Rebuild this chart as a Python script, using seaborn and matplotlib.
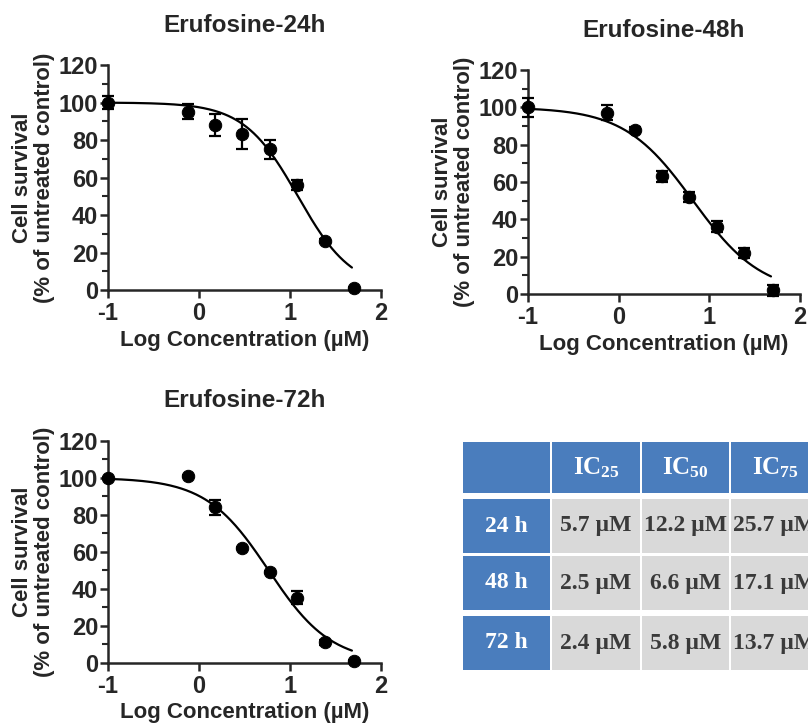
import numpy as np
import pandas as pd
import matplotlib
matplotlib.use('Agg')
import matplotlib.pyplot as plt
import seaborn as sns
from matplotlib.patches import Rectangle
from matplotlib.ticker import MultipleLocator

# Log concentrations (0.1, 0.75, 1.5, 3, 6, 12, 24, 50 uM)
log_conc = [-1.0, -0.125, 0.176, 0.477, 0.778, 1.079, 1.380, 1.699]

surv_24h = [100, 95, 88, 83, 75, 56, 26, 1]
err_24h = [3.5, 4, 6, 8, 5, 2.5, 1, 0.5]
surv_48h = [100, 97, 88, 63, 52, 36, 22, 2]
err_48h = [5, 4, 1.5, 3, 2.5, 3, 2.5, 3]
surv_72h = [100, 101, 84, 62, 49, 35, 11, 1]
err_72h = [0.5, 0.5, 4, 0.5, 0.5, 3.5, 1.5, 0.5]

# IC table (uM)
times = ['24 h', '48 h', '72 h']
ic_labels = ['25', '50', '75']
ic25 = [5.7, 2.5, 2.4]
ic50 = [12.2, 6.6, 5.8]
ic75 = [25.7, 17.1, 13.7]

sns.set_style('ticks')
plt.rcParams['font.family'] = ['Liberation Sans', 'DejaVu Sans']
plt.rcParams['font.weight'] = 'bold'
plt.rcParams['axes.unicode_minus'] = False
plt.rcParams['mathtext.fontset'] = 'custom'
plt.rcParams['mathtext.bf'] = 'Liberation Serif:bold'
plt.rcParams['mathtext.rm'] = 'Liberation Serif:bold'

fig = plt.figure(figsize=(8.08, 7.25), dpi=100)

panels = [
    ('Erufosine-24h', surv_24h, err_24h, 0, [0.1337, 0.600, 0.3379, 0.3103]),
    ('Erufosine-48h', surv_48h, err_48h, 1, [0.6535, 0.5945, 0.3366, 0.3090]),
    ('Erufosine-72h', surv_72h, err_72h, 2, [0.1337, 0.086, 0.3379, 0.3060]),
]

for title, surv, err, i, pos in panels:
    ax = fig.add_axes(pos)
    df = pd.DataFrame({'logc': log_conc, 'surv': surv, 'err': err})

    # 4-parameter logistic fit from the IC values in the table
    hill = 2 * np.log10(3) / np.log10(ic75[i] / ic25[i])
    xs = np.linspace(-1, 1.68, 200)
    fit = pd.DataFrame({'logc': xs,
                        'surv': 100 / (1 + 10 ** ((xs - np.log10(ic50[i])) * hill))})
    sns.lineplot(data=fit, x='logc', y='surv', ax=ax, color='black', lw=1.6)

    ax.errorbar(df['logc'], df['surv'], yerr=df['err'], fmt='none',
                ecolor='black', elinewidth=1.6, capsize=4, capthick=1.6,
                clip_on=False, zorder=3)
    sns.scatterplot(data=df, x='logc', y='surv', ax=ax, color='black', s=80,
                    edgecolor='black', zorder=4, clip_on=False)

    ax.set_xlim(-1, 2)
    ax.set_ylim(0, 120)
    ax.set_xticks([-1, 0, 1, 2])
    ax.set_yticks([0, 20, 40, 60, 80, 100, 120])
    ax.yaxis.set_minor_locator(MultipleLocator(10))
    sns.despine(ax=ax)
    for s in ['left', 'bottom']:
        ax.spines[s].set_linewidth(1.8)
    ax.tick_params(which='major', length=6, width=1.8, labelsize=17, pad=1)
    ax.tick_params(axis='x', which='major', pad=3)
    ax.tick_params(which='minor', length=4, width=1.5)
    for lab in ax.get_xticklabels() + ax.get_yticklabels():
        lab.set_fontweight('bold')

    ax.set_xlabel('Log Concentration (\u00b5M)', fontsize=16, fontweight='bold', labelpad=3)
    ax.set_ylabel('Cell survival\n(% of untreated control)', fontsize=16,
                  fontweight='bold', labelpad=3, linespacing=1.05)
    ax.set_title(title, fontsize=17.5, fontweight='bold', pad=24)

# IC table drawn on an overlay in pixel units
tab = fig.add_axes([0, 0, 1, 1], zorder=-1)
tab.set_xlim(0, 808)
tab.set_ylim(725, 0)
tab.axis('off')

col_x = [(463, 550), (552, 640), (642, 729), (731, 819)]
row_y = [(442, 493), (499, 553), (556, 610), (616, 670)]
blue = '#4a7dbd'
gray = '#d9d9d9'
values = [ic25, ic50, ic75]

for r, (y0, y1) in enumerate(row_y):
    for c, (x0, x1) in enumerate(col_x):
        face = blue if (r == 0 or c == 0) else gray
        tab.add_patch(Rectangle((x0, y0), x1 - x0, y1 - y0, facecolor=face,
                                edgecolor='none'))
        xc, yc = (x0 + x1) / 2, (y0 + y1) / 2
        if r == 0 and c > 0:
            tab.text(xc, yc, r'$\mathbf{IC_{%s}}$' % ic_labels[c - 1], color='white',
                     fontsize=18, ha='center', va='center')
        elif r > 0 and c == 0:
            tab.text(xc, yc, times[r - 1], color='white', fontsize=17,
                     family='Liberation Serif', fontweight='bold',
                     ha='center', va='center')
        elif r > 0:
            tab.text(xc, yc, '%.1f \u00b5M' % values[c - 1][r - 1], color='#3a3a3a',
                     fontsize=17, family='Liberation Serif', fontweight='bold',
                     ha='center', va='center')

fig.savefig('out.png', dpi=100)
